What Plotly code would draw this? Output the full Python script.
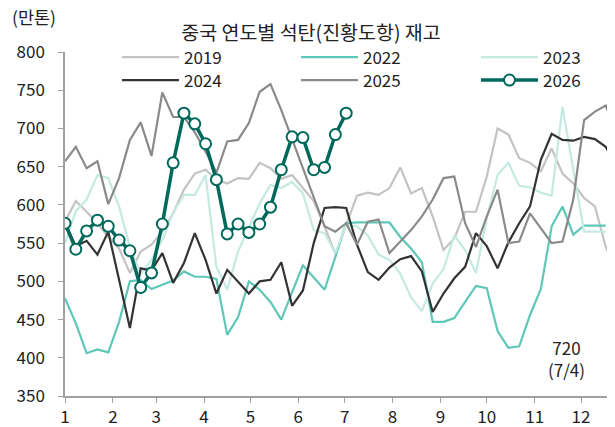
import pandas as pd
import plotly.graph_objects as go

title_text = "중국 연도별 석탄(진황도항) 재고"
unit_text = "(만톤)"
y_ticks = list(range(350, 801, 50))

v2019 = [578, 605, 591, 576, 558, 543, 511, 539, 548, 565, 589, 620, 641, 646, 633, 628,
         635, 634, 655, 648, 634, 639, 622, 605, 572, 536, 574, 612, 616, 613, 622, 649,
         615, 622, 585, 541, 556, 591, 591, 637, 700, 692, 661, 655, 644, 674, 641, 628,
         609, 598, 545, 515]
v2022 = [478, 445, 406, 411, 407, 447, 500, 502, 490, 495, 501, 513, 506, 506, 503, 430,
         453, 500, 489, 473, 450, 486, 521, 505, 489, 532, 576, 577, 577, 577, 577, 558,
         543, 525, 447, 447, 452, 473, 494, 491, 435, 413, 415, 456, 490, 572, 598, 561,
         573, 573, 573]
v2023 = [550, 592, 607, 639, 635, 598, 545, 509, 528, 554, 590, 613, 613, 639, 519, 489,
         539, 570, 602, 626, 622, 630, 615, 567, 563, 537, 574, 572, 560, 535, 528, 510,
         479, 461, 497, 516, 560, 541, 511, 582, 639, 655, 625, 623, 616, 612, 728, 646,
         565, 565, 565]
v2024 = [576, 546, 553, 535, 565, 503, 439, 517, 514, 537, 498, 524, 563, 528, 484, 515,
         500, 484, 500, 502, 525, 468, 488, 550, 596, 597, 596, 548, 512, 502, 518, 529,
         533, 513, 460, 484, 504, 519, 563, 546, 517, 551, 576, 598, 659, 693, 685, 684,
         689, 686, 676, 650]
v2025 = [657, 676, 648, 657, 601, 635, 685, 708, 664, 747, 715, 715, 695, 670, 642, 683,
         685, 707, 748, 758, 724, 686, 648, 610, 572, 565, 576, 548, 578, 581, 537, 552,
         567, 585, 607, 635, 637, 576, 545, 585, 620, 550, 552, 589, 569, 550, 552, 607,
         711, 722, 730, 694]
v2026 = [576, 542, 566, 580, 572, 554, 540, 492, 511, 575, 655, 720, 706, 680, 633, 562,
         575, 564, 575, 597, 646, 689, 688, 646, 649, 692, 720]
last_label = "720<br>(7/4)"

# name, values, colour, width, legend id, legend column, legend row
series = [
    ("2019", v2019, "#c3c3c3", 2.2, "legend", 0, 0),
    ("2022", v2022, "#5fc7b7", 2.2, "legend2", 1, 0),
    ("2023", v2023, "#c4eae2", 2.2, "legend3", 2, 0),
    ("2024", v2024, "#333333", 2.2, "legend4", 0, 1),
    ("2025", v2025, "#8a8a8a", 2.2, "legend5", 1, 1),
]

FONT = "Noto Sans CJK KR, Noto Sans, sans-serif"
TXT = "#222222"
ITEMW = 57
leg_x = [0.0945, 0.42, 0.7472]
leg_y = [1.036, 0.9695]


def weeks(n):
    return pd.date_range("2021-01-01", periods=n, freq="7D")


fig = go.Figure()
for name, vals, color, w, lg, c, r in series:
    fig.add_trace(go.Scatter(x=weeks(len(vals)), y=vals, name=name, mode="lines",
                             line=dict(color=color, width=w), legend=lg))
fig.add_trace(go.Scatter(x=weeks(len(v2026)), y=v2026, name="2026", mode="lines+markers",
                         line=dict(color="#00695c", width=3.5), legend="legend6",
                         marker=dict(size=11, color="white",
                                     line=dict(color="#00695c", width=2))))

legends = {}
cells = [(s[4], s[5], s[6]) for s in series] + [("legend6", 2, 1)]
for lg, c, r in cells:
    legends[lg] = dict(orientation="h", x=leg_x[c], xanchor="left", y=leg_y[r],
                       yanchor="top", bgcolor="rgba(0,0,0,0)", itemwidth=ITEMW,
                       font=dict(family=FONT, size=17, color=TXT))

fig.update_layout(
    width=607, height=419,
    margin=dict(l=57, r=0, t=44, b=31, autoexpand=False),
    paper_bgcolor="white", plot_bgcolor="white",
    font=dict(family=FONT, size=17, color=TXT),
    title=dict(text=title_text, x=303 / 607, xanchor="center", xref="container",
               y=1 - 25 / 419, yanchor="middle",
               font=dict(family=FONT, size=19.5, color=TXT)),
    showlegend=True,
    xaxis=dict(type="date", range=["2021-01-01", "2021-12-23"], tick0="2021-01-01",
               dtick="M1", tickformat="%-m", showgrid=False, zeroline=False,
               showline=True, linecolor="#a0a0a0", linewidth=1.5,
               ticks="outside", ticklen=5, tickcolor="#a0a0a0",
               tickfont=dict(family=FONT, size=17, color=TXT)),
    yaxis=dict(range=[350, 800], tickvals=y_ticks, showgrid=False, zeroline=False,
               showline=True, linecolor="#a0a0a0", linewidth=1.5,
               ticks="outside", ticklen=5, tickcolor="#a0a0a0", ticklabelstandoff=10,
               tickfont=dict(family=FONT, size=17, color=TXT)),
    annotations=[
        dict(text=unit_text, xref="paper", yref="paper", x=-0.1, y=1.102,
             xanchor="left", yanchor="middle", showarrow=False,
             font=dict(family=FONT, size=17.5, color=TXT)),
        dict(text=last_label, xref="paper", yref="paper", x=0.9127, y=0.1076,
             xanchor="center", yanchor="middle", showarrow=False,
             font=dict(family=FONT, size=17, color=TXT)),
    ],
    **legends,
)

fig.write_html("out.html")
